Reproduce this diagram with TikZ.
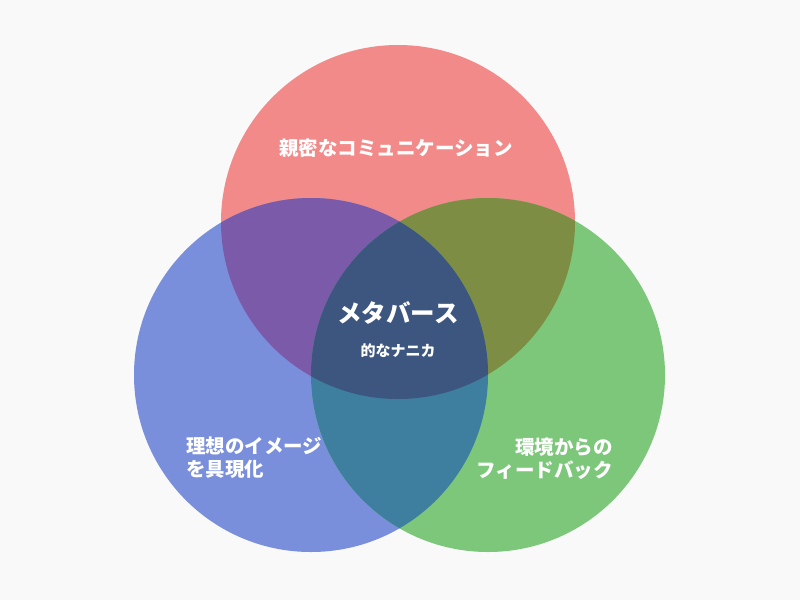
\documentclass[tikz,border=0pt]{standalone}
\usepackage{fontspec}
\newfontfamily\jp{Noto Sans CJK JP}
\definecolor{bg}{HTML}{F9F9F9}
\definecolor{cred}{HTML}{F28A8A}
\definecolor{cblue}{HTML}{7A8FDC}
\definecolor{cgreen}{HTML}{7DC77B}
\definecolor{crb}{HTML}{7B5BA9}
\definecolor{crg}{HTML}{7E8D44}
\definecolor{cbg}{HTML}{3E7E9E}
\definecolor{cmid}{HTML}{3C5680}
\tikzset{
  lbl/.style={text=white,font=\jp\bfseries,inner sep=0pt},
}
\begin{document}
\begin{tikzpicture}[x=1pt,y=-1pt]
\fill[bg] (0,0) rectangle (800,600);
\useasboundingbox (0,0) rectangle (800,600);
\def\R{177}
\coordinate (cr) at (398,222);
\coordinate (cb) at (311,375);
\coordinate (cg) at (488,375);
\fill[cred] (cr) circle (\R);
\fill[cblue] (cb) circle (\R);
\fill[cgreen] (cg) circle (\R);
\begin{scope}
  \clip (cr) circle (\R);
  \fill[crb] (cb) circle (\R);
  \fill[crg] (cg) circle (\R);
\end{scope}
\begin{scope}
  \clip (cb) circle (\R);
  \fill[cbg] (cg) circle (\R);
  \clip (cg) circle (\R);
  \fill[cmid] (cr) circle (\R);
\end{scope}
\node[lbl,font=\jp\bfseries\fontsize{19.5}{23}\selectfont] (top) at (396,148) {親密なコミュニケーション};
\node[lbl,font=\jp\bfseries\fontsize{24.5}{28}\selectfont] (meta) at (398,313) {メタバース};
\node[lbl,font=\jp\bfseries\fontsize{15}{18}\selectfont] (sub) at (398,351) {的なナニカ};
\node[lbl,font=\jp\bfseries\fontsize{19.5}{23}\selectfont,align=left,anchor=west] (left) at (186,458) {理想のイメージ\\を具現化};
\node[lbl,font=\jp\bfseries\fontsize{19.5}{23}\selectfont,align=right,anchor=east] (right) at (613,459) {環境からの\\フィードバック};
\end{tikzpicture}
\end{document}
